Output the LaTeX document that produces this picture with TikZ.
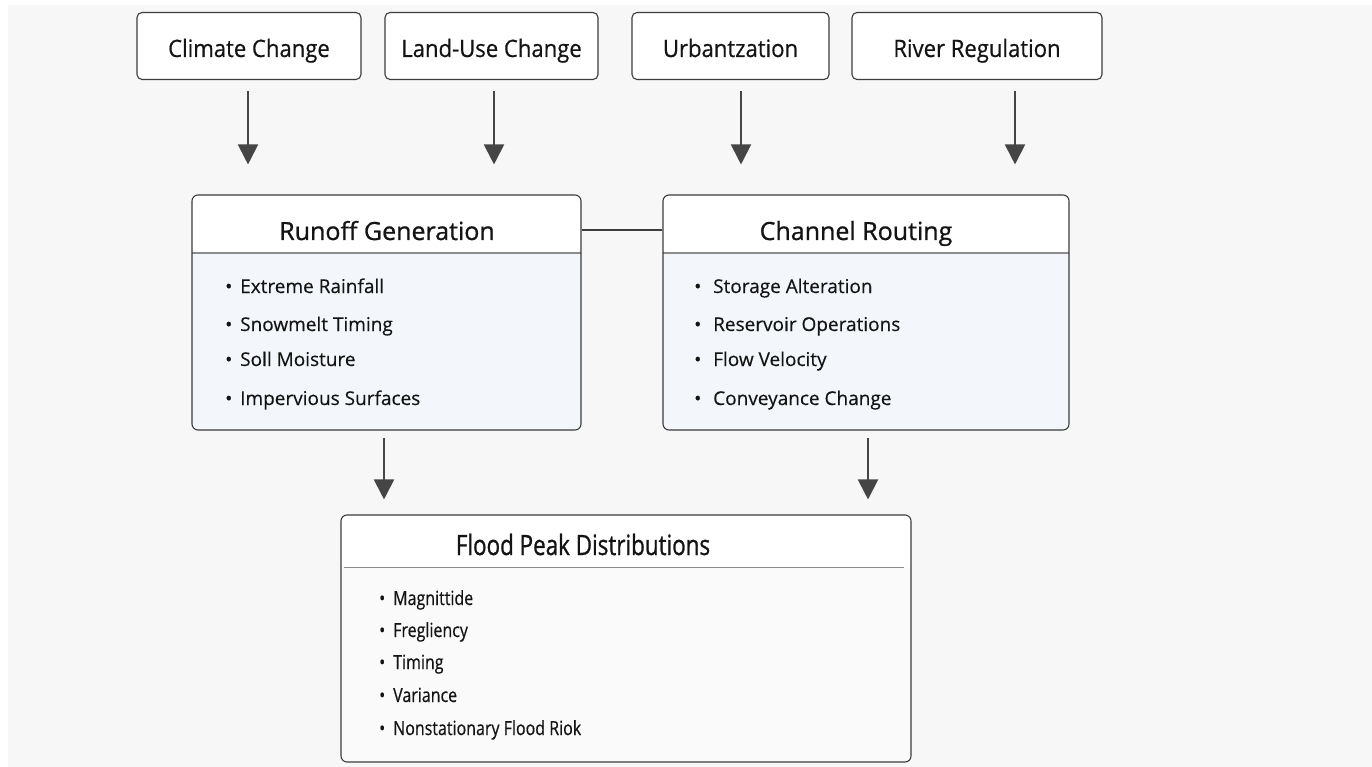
\documentclass[tikz,border=0pt]{standalone}
\usepackage{fontspec}
\setmainfont{Open Sans}[FakeBold=0.6]
\newfontfamily\itemfont[FakeBold=0.35]{Open Sans}
\newfontfamily\titlefont[FakeBold=0.9]{Open Sans}
\newfontfamily\topfont[FakeStretch=0.92,FakeBold=0.5]{Open Sans}
\newfontfamily\condfont[FakeStretch=0.82,FakeBold=0.5]{Open Sans}
\newfontfamily\ftitlefont[FakeStretch=0.8,FakeBold=0.9]{Open Sans}
\usetikzlibrary{arrows.meta}
\definecolor{bg}{HTML}{F7F7F7}
\definecolor{boxc}{HTML}{3C3C3C}
\definecolor{arrc}{HTML}{454545}
\definecolor{bodyc}{HTML}{F3F6FA}
\definecolor{floodc}{HTML}{FAFAFA}
\definecolor{sepc}{HTML}{8C8C8C}
\definecolor{txt}{HTML}{141414}
\tikzset{
  topbox/.style={draw=boxc, line width=1.1pt, rounded corners=5pt, fill=white,
    minimum height=67pt, inner sep=0pt, text=txt, text height=24pt, text depth=2pt,
    font=\topfont\fontsize{24}{28}\selectfont},
  bigbox/.style={draw=boxc, line width=1.1pt, rounded corners=6pt, fill=bodyc,
    minimum height=235pt, inner sep=0pt,
    path picture={
      \fill[white] (path picture bounding box.north west) rectangle ([yshift=-58pt]path picture bounding box.north east);
      \draw[sepc, line width=1.2pt] ([yshift=-58pt]path picture bounding box.north west) -- ([yshift=-58pt]path picture bounding box.north east);
    }},
  title/.style={text=txt, inner sep=0pt, anchor=base, font=\titlefont\fontsize{25}{30}\selectfont},
  item/.style={text=txt, inner sep=0pt, anchor=base west, font=\itemfont\fontsize{19}{23}\selectfont},
  fitem/.style={text=txt, inner sep=0pt, anchor=base west, font=\condfont\fontsize{19.5}{23}\selectfont},
  arr/.style={draw=arrc, line width=2pt, -{Triangle[width=20pt,length=20pt]}},
  conn/.style={draw=boxc, line width=1.2pt},
}
\newcommand{\bul}[1]{\makebox[#1][l]{\textbullet}}
\begin{document}
\begin{tikzpicture}[x=1pt,y=-1pt]
\useasboundingbox (0,0) rectangle (1372,767);
\fill[white] (0,0) rectangle (1372,767);
\fill[bg] (8,5) rectangle (1372,767);

% top boxes
\node[topbox, minimum width=224pt] (cc) at (249,46) {Climate Change};
\node[topbox, minimum width=213pt] (lu) at (491.5,46) {Land-Use Change};
\node[topbox, minimum width=197pt] (ur) at (730.5,46) {Urbantzation};
\node[topbox, minimum width=250pt] (rr) at (977,46) {River Regulation};

% middle boxes
\node[bigbox, minimum width=389pt] (runoff) at (386.5,312.5) {};
\node[bigbox, minimum width=406pt] (channel) at (866,312.5) {};

\node[title] (rtitle) at (387,240) {Runoff Generation};
\node[title] (ctitle) at (856,240) {Channel Routing};

\node[item] (r1) at (225,293) {\bul{15pt}Extreme Rainfall};
\node[item] (r2) at (225,331) {\bul{15pt}Snowmelt Timing};
\node[item] (r3) at (225,366) {\bul{15pt}Soll Moisture};
\node[item] (r4) at (225,405) {\bul{15pt}Impervious Surfaces};

\node[item] (c1) at (694,293) {\bul{19pt}Storage Alteration};
\node[item] (c2) at (694,331) {\bul{19pt}Reservoir Operations};
\node[item] (c3) at (694,366) {\bul{19pt}Flow Velocity};
\node[item] (c4) at (694,405) {\bul{19pt}Conveyance Change};

% flood box
\node[draw=boxc, line width=1.1pt, rounded corners=6pt, fill=floodc,
  minimum width=570pt, minimum height=247pt, inner sep=0pt,
  path picture={\fill[white] (path picture bounding box.north west) rectangle ([yshift=-53pt]path picture bounding box.north east);}]
  (flood) at (626,638.5) {};
\draw[sepc, line width=1.2pt] ([xshift=4pt,yshift=-53pt]flood.north west) -- ([xshift=-8pt,yshift=-53pt]flood.north east);
\node[title, font=\ftitlefont\fontsize{28}{32}\selectfont] (ftitle) at (583,555) {Flood Peak Distributions};

\node[fitem] (f1) at (379,605) {\bul{14pt}Magnittide};
\node[fitem] (f2) at (379,637) {\bul{14pt}Fregliency};
\node[fitem] (f3) at (379,669) {\bul{14pt}Timing};
\node[fitem] (f4) at (379,702) {\bul{14pt}Variance};
\node[fitem] (f5) at (379,735) {\bul{14pt}Nonstationary Flood Riok};

% arrows
\coordinate (x1) at (248,0);
\coordinate (x2) at (494,0);
\coordinate (x3) at (741,0);
\coordinate (x4) at (1015,0);
\coordinate (x5) at (384,0);
\coordinate (x6) at (868,0);
\draw[arr, shorten <=11pt, shorten >=30pt] (cc.south -| x1) -- (runoff.north -| x1);
\draw[arr, shorten <=11pt, shorten >=30pt] (lu.south -| x2) -- (runoff.north -| x2);
\draw[arr, shorten <=11pt, shorten >=30pt] (ur.south -| x3) -- (channel.north -| x3);
\draw[arr, shorten <=11pt, shorten >=30pt] (rr.south -| x4) -- (channel.north -| x4);
\draw[arr, shorten <=7pt, shorten >=15pt] (runoff.south -| x5) -- (flood.north -| x5);
\draw[arr, shorten <=7pt, shorten >=15pt] (channel.south -| x6) -- (flood.north -| x6);

% link
\coordinate (lk) at (0,230);
\draw[conn] (lk -| runoff.east) -- (lk -| channel.west);
\end{tikzpicture}
\end{document}
